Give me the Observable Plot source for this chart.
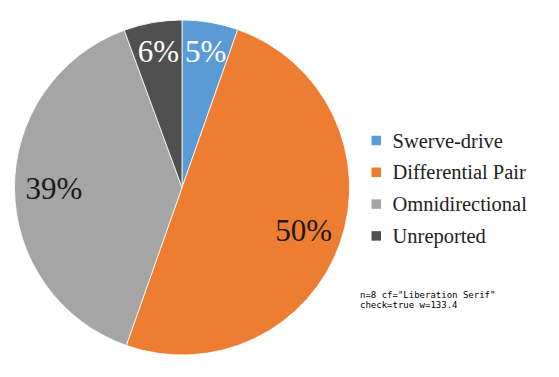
<!DOCTYPE html>
<html>
<head>
<meta charset="utf-8">
<script src="https://cdn.jsdelivr.net/npm/d3@7"></script>
<script src="https://cdn.jsdelivr.net/npm/@observablehq/plot@0.6"></script>
<style>
  html, body { margin: 0; padding: 0; background: #fff; }
</style>
</head>
<body>
<div id="chart"></div>
<div id="dbg" style="position:absolute;left:360px;top:290px;width:195px;font:9px 'DejaVu Sans Mono';white-space:pre-wrap"></div>
<script>
// ---- data ----
const categories = ["Swerve-drive", "Differential Pair", "Omnidirectional", "Unreported"];
const shares = [5.4, 50.0, 39.0, 5.6];
const shareLabels = ["5%", "50%", "39%", "6%"];
const sliceColors = ["#5B9BD5", "#ED7D31", "#A5A5A5", "#505050"];
const labelColors = ["#ffffff", "#1a1a1a", "#1a1a1a", "#ffffff"];

// ---- layout ----
const W = 559, H = 377;
const CX = 182, CY = 187.5, R = 167.5;
const FONT = "Liberation Serif";

const arcs = d3.pie().sort(null).value(d => d)(shares);

const labelRows = arcs.map((a, i) => {
  const mid = (a.startAngle + a.endAngle) / 2;
  const rl = R * (shares[i] < 10 ? 0.822 : 0.767);
  return {
    x: CX + rl * Math.sin(mid),
    y: CY - rl * Math.cos(mid),
    text: shareLabels[i],
    color: labelColors[i]
  };
});

const legendRows = categories.map((c, i) => ({
  category: c,
  y: 140.5 + i * 31.8
}));

function pieMark(index, scales) {
  const cx = scales.x(CX), cy = scales.y(CY);
  const r = scales.x(CX + R) - cx;
  const arc = d3.arc().innerRadius(0).outerRadius(r);
  const g = d3.create("svg:g").attr("transform", `translate(${cx},${cy})`);
  g.selectAll("path")
    .data(arcs)
    .join("path")
    .attr("d", arc)
    .attr("fill", (d, i) => scales.color(categories[i]))
    .attr("stroke", "#ffffff")
    .attr("stroke-width", 0.8)
    .attr("stroke-linejoin", "round");
  return g.node();
}

const chart = Plot.plot({
  width: W,
  height: H,
  margin: 0,
  style: { fontFamily: FONT, background: "#fff" },
  x: { domain: [0, W], range: [0, W], axis: null },
  y: { domain: [0, H], range: [0, H], axis: null },
  color: { domain: categories, range: sliceColors },
  marks: [
    pieMark,
    Plot.text(labelRows, {
      x: "x", y: "y", text: "text", fill: d => d.color,
      fontSize: 31, fontFamily: FONT, textAnchor: "middle", lineAnchor: "middle"
    }),
    Plot.rect(legendRows, {
      x1: () => 371.5, x2: () => 381, y1: d => d.y - 4.75, y2: d => d.y + 4.75,
      fill: "category"
    }),
    Plot.text(legendRows, {
      x: () => 392, y: "y", text: "category",
      fontSize: 20.5, fontFamily: FONT, fill: "#222", textAnchor: "start", lineAnchor: "middle",
      ariaLabel: "legend-text"
    })
  ]
});

document.getElementById("chart").appendChild(chart);
const t = chart.querySelectorAll("text");
document.getElementById("dbg").textContent =
  "n=" + t.length + " cf=" + getComputedStyle(t[0]).fontFamily +
  " check=" + document.fonts.check("20px 'Liberation Serif'") +
  " w=" + (t[5] ? t[5].getComputedTextLength().toFixed(1) : "?");
</script>
</body>
</html>
